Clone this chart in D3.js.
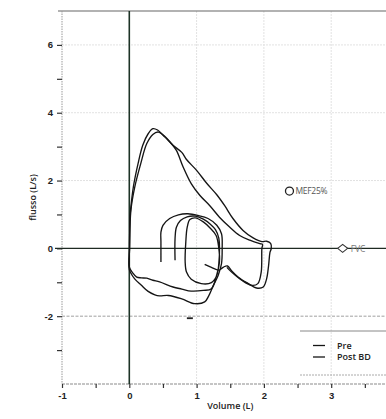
<!DOCTYPE html>
<html>
<head>
<meta charset="utf-8">
<script src="https://cdn.jsdelivr.net/npm/d3@7"></script>
<style>
  html, body { margin: 0; padding: 0; background: #fff; }
  svg { display: block; font-family: "Open Sans", "DejaVu Sans", sans-serif; }
</style>
</head>
<body>
<svg id="chart" width="386" height="419"></svg>
<script>
// Flow-volume loops, [volume L, flow L/s] in drawing order
const preLoop = [
  [0.47,-0.40],[0.47,0.20],[0.47,0.48],[0.50,0.68],[0.60,0.88],[0.73,0.99],[0.87,1.02],
  [1.02,0.97],[1.17,0.88],[1.30,0.68],[1.37,0.43],[1.38,0.00],[1.37,-0.45],[1.32,-0.80],
  [1.25,-1.09],[1.18,-1.40],[1.12,-1.58],[0.97,-1.63],[0.78,-1.49],[0.58,-1.39],[0.45,-1.40],
  [0.38,-1.37],[0.28,-1.27],[0.18,-1.09],[0.08,-0.90],[0.02,-0.72],[0.00,-0.62],
  [0.00,-0.20],[0.005,0.40],[0.01,0.90],[0.02,1.15],[0.06,1.81],[0.13,2.50],[0.20,3.04],
  [0.28,3.38],[0.35,3.53],[0.42,3.49],[0.53,3.28],[0.65,3.04],[0.78,2.83],[0.85,2.62],
  [1.00,2.30],[1.15,1.92],[1.30,1.58],[1.42,1.25],[1.54,0.88],[1.69,0.53],[1.84,0.31],
  [1.97,0.20],[2.04,0.21],[2.10,0.15],[2.11,0.00],[2.09,-0.12],[2.07,-0.50],[2.04,-0.90],
  [1.99,-1.14],[1.89,-1.17],[1.77,-1.04],[1.62,-0.85],[1.52,-0.66],[1.46,-0.52],
  [1.40,-0.55],[1.33,-0.64],[1.22,-0.56],[1.12,-0.47]
];

const postLoop = [
  [0.68,-0.35],[0.68,0.30],[0.70,0.62],[0.76,0.82],[0.86,0.93],[0.98,0.95],[1.10,0.86],
  [1.20,0.72],[1.28,0.55],[1.33,0.30],[1.34,0.00],[1.33,-0.45],[1.30,-0.80],[1.22,-1.01],
  [1.07,-1.04],[0.92,-0.91],[0.85,-0.70],[0.83,-0.40],[0.84,0.20],[0.86,0.62],[0.90,0.85],
  [0.98,0.90],[1.10,0.78],[1.20,0.60],[1.29,0.38],[1.33,0.00],[1.34,-0.40],[1.30,-0.78],
  [1.22,-1.19],[1.10,-1.24],[0.92,-1.26],[0.78,-1.20],[0.65,-1.14],[0.45,-0.99],
  [0.35,-0.94],[0.26,-0.88],[0.18,-0.87],[0.11,-0.85],[0.05,-0.72],[0.00,-0.55],
  [0.005,0.00],[0.01,0.60],[0.025,1.15],[0.08,1.80],[0.17,2.50],[0.26,3.09],[0.35,3.36],
  [0.43,3.43],[0.53,3.30],[0.62,3.10],[0.70,2.89],[0.80,2.40],[0.92,1.91],[1.05,1.56],
  [1.20,1.25],[1.34,0.92],[1.49,0.63],[1.64,0.38],[1.79,0.24],[1.94,0.14],[1.98,0.12],
  [1.97,0.00],[1.96,-0.70],[1.91,-1.04],[1.82,-1.09],[1.67,-0.94],[1.52,-0.70],[1.45,-0.56]
];

// Reference points
const mef25 = [2.38, 1.69];
const fvc = [3.17, 0.0];
const pifMark = [0.90, -2.06];

// Axis ticks
const xTickValues = [-1, -0.5, 0, 0.5, 1, 1.5, 2, 2.5, 3, 3.5];
const xTickLabels = [-1, 0, 1, 2, 3];
const yTickValues = [-3, -2, -1, 0, 1, 2, 3, 4, 5, 6];
const yTickLabels = [-2, 0, 2, 4, 6];
const xGrid = [1, 2, 3];
const yGrid = [2, 4, 6];

const legendLabels = ["Pre", "Post BD"];

const svg = d3.select("#chart");
const x = d3.scaleLinear().domain([-1, 4]).range([62, 398.5]);
const y = d3.scaleLinear().domain([-4, 7]).range([384, 11]);

const ink = "#151515";

// light grid
svg.append("g").selectAll("line").data(xGrid).join("line")
  .attr("x1", d => x(d)).attr("x2", d => x(d)).attr("y1", y(7)).attr("y2", y(-4))
  .attr("stroke", "#e2e2e2").attr("stroke-width", 1).attr("stroke-dasharray", "2,1");
svg.append("g").selectAll("line").data(yGrid).join("line")
  .attr("x1", x(-1)).attr("x2", 386).attr("y1", d => y(d)).attr("y2", d => y(d))
  .attr("stroke", "#e2e2e2").attr("stroke-width", 1).attr("stroke-dasharray", "2,1");
// -2 reference line
svg.append("line").attr("x1", x(-1)).attr("x2", 386).attr("y1", y(-2)).attr("y2", y(-2))
  .attr("stroke", "#a0a0a0").attr("stroke-width", 1).attr("stroke-dasharray", "3,1.5");

// frame: top border, dotted left and bottom axes
svg.append("line").attr("x1", 58).attr("x2", 386).attr("y1", y(7)).attr("y2", y(7))
  .attr("stroke", "#666").attr("stroke-width", 1.2);
svg.append("line").attr("x1", x(-1)).attr("x2", x(-1)).attr("y1", y(7)).attr("y2", y(-4))
  .attr("stroke", "#9a9a9a").attr("stroke-width", 1).attr("stroke-dasharray", "1.5,1");
svg.append("line").attr("x1", x(-1)).attr("x2", 386).attr("y1", y(-4)).attr("y2", y(-4))
  .attr("stroke", "#8a8a8a").attr("stroke-width", 1).attr("stroke-dasharray", "3,1");

// y ticks
const yAxis = d3.axisLeft(y).tickValues(yTickValues).tickSize(5)
  .tickFormat(d => yTickLabels.includes(d) ? d3.format("d")(d).replace("−", "-") : "");
const gy = svg.append("g").attr("transform", `translate(${x(-1)},0)`).call(yAxis);
gy.select(".domain").remove();
gy.selectAll(".tick line").attr("stroke", "#333").attr("stroke-width", 1.2);
gy.selectAll(".tick text").attr("fill", "#222").attr("font-size", 9.5).attr("font-weight", 700)
  .attr("x", -9);

// x ticks
const xAxis = d3.axisBottom(x).tickValues(xTickValues).tickSize(4)
  .tickFormat(d => xTickLabels.includes(d) ? d3.format("d")(d).replace("−", "-") : "");
const gx = svg.append("g").attr("transform", `translate(0,${y(-4)})`).call(xAxis);
gx.select(".domain").remove();
gx.selectAll(".tick line").attr("stroke", "#333").attr("stroke-width", 1.2);
gx.selectAll(".tick text").attr("fill", "#222").attr("font-size", 9.5).attr("font-weight", 700)
  .attr("y", 8);

// zero axes
svg.append("line").attr("x1", 55).attr("x2", 386).attr("y1", y(0)).attr("y2", y(0))
  .attr("stroke", "#1e2a22").attr("stroke-width", 1.3);
svg.append("line").attr("x1", x(0)).attr("x2", x(0)).attr("y1", y(7)).attr("y2", y(-4))
  .attr("stroke", "#1d3326").attr("stroke-width", 1.6);

// axis titles
svg.append("text").attr("transform", `translate(36,${(y(7) + y(-4)) / 2}) rotate(-90)`)
  .attr("text-anchor", "middle").attr("font-size", 9).attr("font-weight", 600)
  .attr("fill", "#222").text("flusso (L/s)");
svg.append("text").attr("x", (x(-1) + x(4)) / 2).attr("y", 409)
  .attr("text-anchor", "middle").attr("font-size", 9).attr("font-weight", 600)
  .attr("fill", "#222").text("Volume (L)");

// loops
const line = d3.line().x(d => x(d[0])).y(d => y(d[1])).curve(d3.curveCatmullRom.alpha(0.5));
svg.append("path").datum(preLoop).attr("d", line)
  .attr("fill", "none").attr("stroke", ink).attr("stroke-width", 1.35).attr("stroke-linejoin", "round");
svg.append("path").datum(postLoop).attr("d", line)
  .attr("fill", "none").attr("stroke", ink).attr("stroke-width", 1.35).attr("stroke-linejoin", "round");

// MEF25% marker
svg.append("circle").attr("cx", x(mef25[0])).attr("cy", y(mef25[1])).attr("r", 4)
  .attr("fill", "#fff").attr("stroke", "#222").attr("stroke-width", 1.3);
svg.append("text").attr("x", x(mef25[0]) + 6).attr("y", y(mef25[1]) + 3.2)
  .attr("font-size", 8.5).attr("fill", "#555").attr("letter-spacing", -0.3).text("MEF25%");

// FVC marker
const fx = x(fvc[0]), fy = y(fvc[1]);
svg.append("path").attr("d", `M${fx - 5},${fy} L${fx},${fy - 4} L${fx + 5},${fy} L${fx},${fy + 4} Z`)
  .attr("fill", "#fff").attr("stroke", "#333").attr("stroke-width", 1.1);
svg.append("text").attr("x", fx + 8).attr("y", fy + 3.2)
  .attr("font-size", 8.5).attr("fill", "#777").text("FVC");

// small dash mark
svg.append("line").attr("x1", x(pifMark[0]) - 3).attr("x2", x(pifMark[0]) + 3)
  .attr("y1", y(pifMark[1])).attr("y2", y(pifMark[1]))
  .attr("stroke", "#222").attr("stroke-width", 1.8);

// legend
const lg = svg.append("g");
lg.append("line").attr("x1", 300).attr("x2", 386).attr("y1", 331).attr("y2", 331)
  .attr("stroke", "#888").attr("stroke-width", 1);
lg.append("line").attr("x1", 300).attr("x2", 386).attr("y1", 375).attr("y2", 375)
  .attr("stroke", "#aaa").attr("stroke-width", 1).attr("stroke-dasharray", "2,1");
legendLabels.forEach((t, i) => {
  const ly = 345.5 + i * 11.5;
  lg.append("line").attr("x1", 313).attr("x2", 325).attr("y1", ly).attr("y2", ly)
    .attr("stroke", ink).attr("stroke-width", 1.3);
  lg.append("text").attr("x", 337).attr("y", ly + 3).attr("font-size", 9)
    .attr("font-weight", 600).attr("fill", "#222").text(t);
});
</script>
</body>
</html>
